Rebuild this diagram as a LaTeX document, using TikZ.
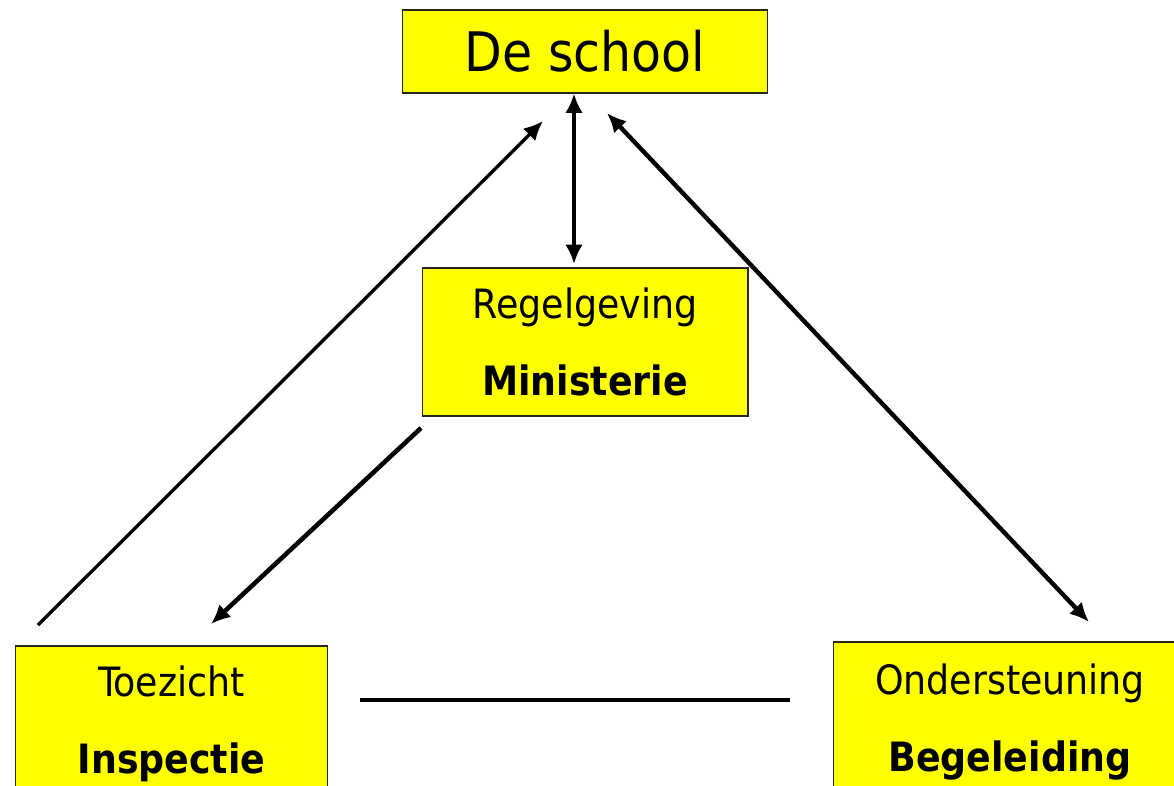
\documentclass[tikz,border=0pt]{standalone}
\usepackage{fontspec}
\setmainfont{DejaVu Sans Condensed}
\usetikzlibrary{arrows.meta}

\definecolor{boxyellow}{RGB}{255,255,0}

\begin{document}
\begin{tikzpicture}[x=0.02cm,y=-0.02cm,
    box/.style={draw=black!85,line width=0.6pt,fill=boxyellow,align=center,inner sep=0pt,
      font=\fontsize{23pt}{44pt}\selectfont},
    pijl/.style={line width=2pt,-{Latex[length=11pt,width=10pt]}},
    dubbel/.style={line width=2pt,{Latex[length=11pt,width=10pt]}-{Latex[length=11pt,width=10pt]}}]
    \useasboundingbox (0,0) rectangle (1174,785);
    \clip (0,0) rectangle (1174,785);

                        \node (school) at (585,51.5) [box,minimum width=7.32cm,minimum height=1.66cm,
                              font=\fontsize{31pt}{36pt}\selectfont] {De school};
                        \node (regel) at (585,342) [box,minimum width=6.52cm,minimum height=2.96cm] {Regelgeving\\\textbf{Ministerie}};
                        \node (toezicht) at (171.5,724) [box,minimum width=6.26cm,minimum height=3.12cm] {Toezicht\\\textbf{Inspectie}};
                        \node (steun) at (1010,722) [box,minimum width=7.08cm,minimum height=3.2cm] {Ondersteuning\\\textbf{Begeleiding}};

                        \coordinate (toe-uit) at (38,625);
                        \coordinate (school-in) at (543,121);
                        \coordinate (school-mid) at (574,93.5);
                        \coordinate (regel-in) at (574,264);
                        \coordinate (school-r) at (607,113);
                        \coordinate (steun-in) at (1089,622);
                        \coordinate (regel-uit) at (421,428);
                        \coordinate (toe-in) at (211,624);
                        \coordinate (lijn-l) at (360,700);
                        \coordinate (lijn-r) at (790,700);

                    \draw[pijl,line width=1.9pt] (toe-uit) -- (school-in);
                    \draw[dubbel,line width=2.2pt] (school-mid) -- (regel-in);
                    \draw[dubbel,line width=2.5pt] (school-r) -- (steun-in);
                    \draw[pijl,line width=2.6pt] (regel-uit) -- (toe-in);
                    \draw[line width=2.6pt] (lijn-l) -- (lijn-r);
                \end{tikzpicture}
\end{document}
